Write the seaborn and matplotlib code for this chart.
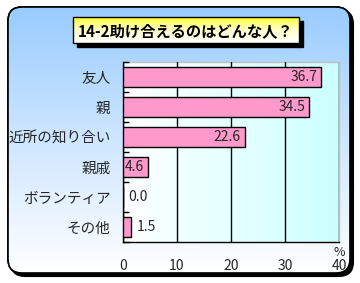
import numpy as np
import pandas as pd
import matplotlib
matplotlib.use("Agg")
import matplotlib.pyplot as plt
from matplotlib.patches import FancyBboxPatch, Rectangle
from matplotlib.colors import LinearSegmentedColormap
import seaborn as sns

categories = ["友人", "親", "近所の知り合い", "親戚", "ボランティア", "その他"]
values = [36.7, 34.5, 22.6, 4.6, 0.0, 1.5]
xticks = [0, 10, 20, 30, 40]
title = "14-2助け合えるのはどんな人？"

sns.set_theme(style="white")
plt.rcParams['font.family'] = ['Noto Sans CJK JP', 'DejaVu Sans']

W, H = 360, 283
fig = plt.figure(figsize=(W / 100, H / 100), dpi=100)
fig.patch.set_facecolor("white")

# background layer in pixel coords
bg = fig.add_axes([0, 0, 1, 1])
bg.set_xlim(0, W)
bg.set_ylim(H, 0)
bg.axis("off")

fx0, fy0, fx1, fy1 = 8, 7, 350, 273
r = 14
shadow = FancyBboxPatch((fx0 + 3, fy0 + 3), fx1 - fx0, fy1 - fy0,
                        boxstyle=f"round,pad=0,rounding_size={r}",
                        fc="black", ec="black", lw=1.5, zorder=1)
bg.add_patch(shadow)
frame = FancyBboxPatch((fx0, fy0), fx1 - fx0, fy1 - fy0,
                       boxstyle=f"round,pad=0,rounding_size={r}",
                       fc="white", ec="black", lw=1.2, zorder=2)
bg.add_patch(frame)
cmap_bg = LinearSegmentedColormap.from_list("bg", ["#99ccff", "#cfe6ff", "#ffffff"])
grad = np.linspace(0, 1, 256).reshape(-1, 1)
im = bg.imshow(grad, cmap=cmap_bg, extent=[fx0, fx1, fy1, fy0], aspect="auto", zorder=3)
im.set_clip_path(frame)
frame_edge = FancyBboxPatch((fx0, fy0), fx1 - fx0, fy1 - fy0,
                            boxstyle=f"round,pad=0,rounding_size={r}",
                            fc="none", ec="black", lw=1.2, zorder=4)
bg.add_patch(frame_edge)

# title box
tx0, ty0, tx1, ty1 = 73, 17, 299, 43
bg.add_patch(Rectangle((tx0 + 4, ty0 + 4), tx1 - tx0, ty1 - ty0, fc="black", ec="black", zorder=5))
cmap_t = LinearSegmentedColormap.from_list("t", ["#ffff33", "#ffffcc", "#ffffff"])
tgrad = np.linspace(0, 1, 64).reshape(-1, 1)
bg.imshow(tgrad, cmap=cmap_t, extent=[tx0, tx1, ty1, ty0], aspect="auto", zorder=6)
bg.add_patch(Rectangle((tx0, ty0), tx1 - tx0, ty1 - ty0, fc="none", ec="black", lw=1, zorder=7))
bg.text((tx0 + tx1) / 2, (ty0 + ty1) / 2 + 1, title, ha="center", va="center",
        fontsize=11, fontweight="bold", color="black", zorder=8)
bg.set_xlim(0, W)
bg.set_ylim(H, 0)

# main plot
ax = fig.add_axes([123 / W, 1 - 242 / H, (339 - 123) / W, (242 - 62) / H])
ax.patch.set_alpha(0)
df = pd.DataFrame({"cat": categories, "val": values})
sns.barplot(data=df, x="val", y="cat", orient="h", color="#ff99cc", saturation=1,
            edgecolor="black", linewidth=1, width=0.67, ax=ax, zorder=3)
cmap_p = LinearSegmentedColormap.from_list("p", ["#ffffff", "#ccffff"])
ax.imshow(np.linspace(0, 1, 256).reshape(1, -1), cmap=cmap_p, extent=[0, 1, 0, 1],
          transform=ax.transAxes, aspect="auto", zorder=0)
ax.set_xlim(0, 40)
ax.set_ylim(5.5, -0.5)
ax.set_xticks(xticks)
ax.set_xticklabels([str(t) for t in xticks], fontsize=10)
ax.xaxis.grid(True, color="black", lw=1, zorder=1)
ax.set_axisbelow(False)
for gl in ax.get_xgridlines():
    gl.set_zorder(1)
ax.set_xlabel("")
ax.set_ylabel("")
ax.tick_params(axis="x", length=0, pad=12)
ax.tick_params(axis="y", which="major", length=0, pad=9, labelsize=10.5)
ax.set_yticks(np.arange(-0.5, 6, 1), minor=True)
ax.tick_params(axis="y", which="minor", direction="in", length=4, width=1, color="black", left=True)
for s in ["left", "bottom"]:
    ax.spines[s].set_color("black")
    ax.spines[s].set_linewidth(1)
for s in ["top", "right"]:
    ax.spines[s].set_color("#c0c0c0")
    ax.spines[s].set_linewidth(1)

for i, v in enumerate(values):
    if v > 4:
        ax.annotate(f"{v:.1f}", (v, i), xytext=(-3, 0), textcoords="offset points",
                    ha="right", va="center", fontsize=10, zorder=5)
    else:
        ax.annotate(f"{v:.1f}", (v, i), xytext=(4, 0), textcoords="offset points",
                    ha="left", va="center", fontsize=10, zorder=5)

ax.text(1.0, -0.02, "%", transform=ax.transAxes, ha="center", va="top", fontsize=9)

fig.savefig("out.png", dpi=100)
